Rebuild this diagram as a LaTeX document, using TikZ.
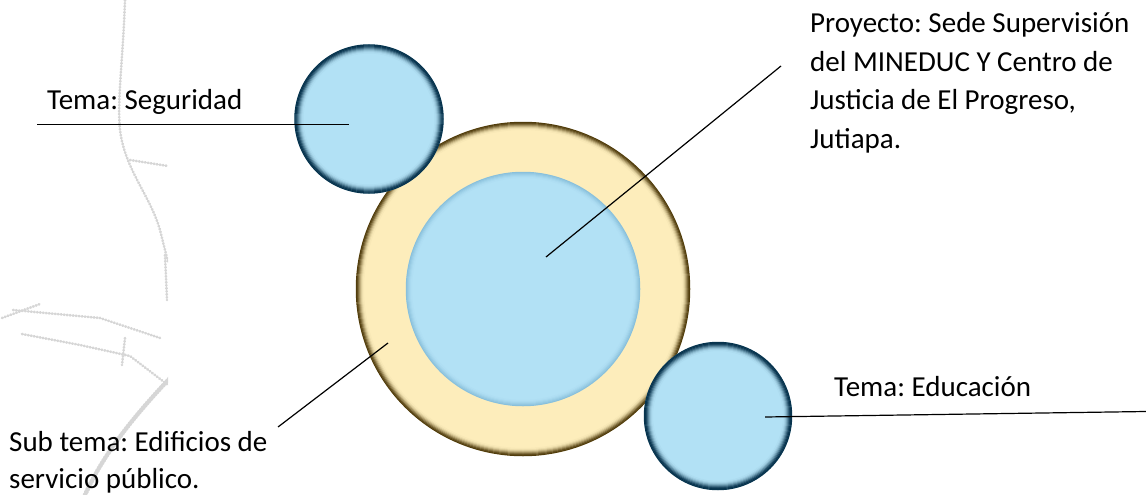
\documentclass[tikz,border=0pt]{standalone}
\usepackage{fontspec}
\setmainfont{Carlito}
\frenchspacing
\definecolor{lblue}{RGB}{178,225,245}
\definecolor{navyrim}{RGB}{8,52,78}
\definecolor{cream}{RGB}{253,237,187}
\definecolor{rimbrown}{RGB}{80,60,12}
\definecolor{coreedge}{RGB}{120,178,208}
\begin{document}
\begin{tikzpicture}[x=1pt,y=-1pt,
  lbl/.style={font=\fontsize{29}{40}\selectfont, anchor=base west, inner sep=0pt, text=black},
  leader/.style={draw=black, line width=1.2pt},
  sketch/.style={draw=black!16, line width=2.6pt, dash pattern=on 0.8pt off 2.2pt, line cap=round},
  disc/.style={circle, inner sep=0pt, draw=none}]
\useasboundingbox (0,0) rectangle (1146,495);
% faint background sketch
\begin{scope}
  \clip (0,0) rectangle (168,495);
  \draw[sketch] (125,0) .. controls (123,60) and (117,100) .. (120,130) .. controls (125,170) and (150,195) .. (160,230) -- (168,262);
  \draw[sketch] (165,255) -- (167,300);
  \draw[sketch] (2,318) -- (40,304);
  \draw[sketch] (13,310) -- (100,318) -- (160,338);
  \draw[sketch] (22,334) -- (80,345) -- (130,356) -- (168,385);
  \draw[sketch, line width=4.5pt] (85,495) .. controls (105,450) and (140,410) .. (170,378);
  \draw[sketch] (125,338) -- (122,365);
  \draw[sketch] (130,160) -- (168,166);
\end{scope}
% big ring
\node[disc, fill=cream, minimum size=334pt] (ring) at (523,289) {};
\foreach \k/\p in {0/100,1/92,2/75,3/55,4/36,5/20,6/9,7/3}
  \draw[draw=rimbrown!\p!cream, line width=1.3pt] (ring.center) circle ({166.6-\k});
% core
\node[disc, fill=lblue, minimum size=234pt] (core) at (523,289) {};
\foreach \k/\p in {0/70,1/55,2/40,3/26,4/14,5/6}
  \draw[draw=coreedge!\p!lblue, line width=1.3pt] (core.center) circle ({116.6-\k});
% small circles
\node[disc, fill=lblue, minimum size=149pt] (seg) at (369,119) {};
\foreach \k/\p in {0/100,1/100,2/90,3/72,4/52,5/34,6/19,7/9,8/3}
  \draw[draw=navyrim!\p!lblue, line width=1.3pt] (seg.center) circle ({74.1-\k});
\node[disc, fill=lblue, minimum size=148pt] (edu) at (718,416) {};
\foreach \k/\p in {0/100,1/100,2/90,3/72,4/52,5/34,6/19,7/9,8/3}
  \draw[draw=navyrim!\p!lblue, line width=1.3pt] (edu.center) circle ({73.6-\k});
% leader ends
\coordinate (segout) at (37,124.5);
\coordinate (proout) at (781,66);
\coordinate (subout) at (278,427);
\coordinate (eduout) at (1146,411.5);
\draw[leader] (segout) -- ([shift={(-20,5.5)}]seg.center);
\draw[leader] ([shift={(23,-32)}]core.center) -- (proout);
\draw[leader] ([shift={(-135,54)}]ring.center) -- (subout);
\draw[leader] ([shift={(47,1)}]edu.center) -- (eduout);
% labels
\node[lbl] (tseg) at (47,109) {Tema: Seguridad};
\node[lbl] (tp1) at (810,32.3) {Proyecto: Sede Supervisión};
\node[lbl] (tp2) at (810,71) {del MINEDUC Y Centro de};
\node[lbl] (tp3) at (810,109.7) {Justicia de El Progreso,};
\node[lbl] (tp4) at (810,148.4) {Jutiapa.};
\node[lbl] (ts1) at (9,451.7) {Sub tema: Edificios de};
\node[lbl] (ts2) at (9,488) {servicio público.};
\node[lbl] (tedu) at (834,396.7) {Tema: Educación};
\end{tikzpicture}
\end{document}
